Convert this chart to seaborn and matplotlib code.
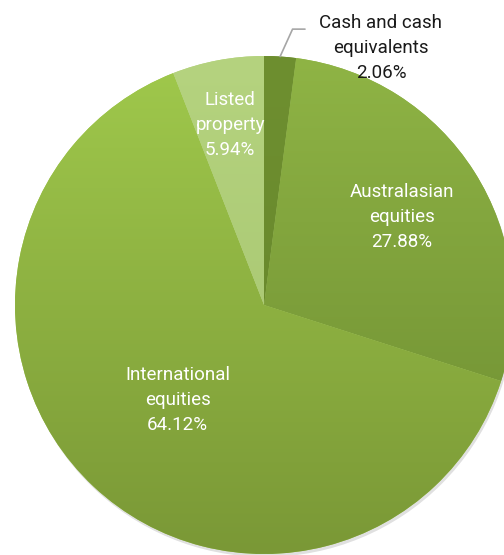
import numpy as np
import matplotlib
matplotlib.use("Agg")
import matplotlib.pyplot as plt
import seaborn as sns
from matplotlib.colors import LinearSegmentedColormap
from matplotlib.patches import Circle

sns.set_theme(style="white")
plt.rcParams['font.family'] = ['Roboto', 'DejaVu Sans']

categories = ["Cash and cash\nequivalents", "Australasian\nequities", "International\nequities", "Listed\nproperty"]
values = [2.06, 27.88, 64.12, 5.94]
top_colors = ["#6e8f30", "#8fb445", "#a0c94c", "#b5d37f"]
bottom_colors = ["#66852b", "#6b8a30", "#7a9836", "#a3c26c"]
label_dist = [None, 0.657, 0.515, 0.735]
label_rot = [0, 0.0, 0.8, 0]

W, H, dpi = 504, 555, 100
fig = plt.figure(figsize=(W / dpi, H / dpi), dpi=dpi)
ax = fig.add_axes([0, 0, 1, 1])

R_PX = 249.0
cx, cy = 264.0, 305.0
ax.set_aspect("equal")
ax.axis("off")

# faint shadow
ax.add_patch(Circle((0.006, -0.012), 1.0, color="#000000", alpha=0.12, zorder=0, lw=0))

wedges, _ = ax.pie(values, startangle=90, counterclock=False, radius=1.0,
                   wedgeprops=dict(linewidth=0, edgecolor="none"))

grad = np.linspace(0, 1, 256).reshape(-1, 1)
for w, tc, bc in zip(wedges, top_colors, bottom_colors):
    w.set_facecolor(tc)
    cmap = LinearSegmentedColormap.from_list("g", [tc, bc])
    im = ax.imshow(grad, cmap=cmap, extent=[-1, 1, -1, 1], origin="upper",
                   aspect="auto", zorder=w.get_zorder() + 0.1)
    im.set_clip_path(w)

ax.set_xlim(-cx / R_PX, (W - cx) / R_PX)
ax.set_ylim(-(H - cy) / R_PX, cy / R_PX)

FS = 13.5
for w, cat, v, d, rot in zip(wedges, categories, values, label_dist, label_rot):
    mid = np.deg2rad((w.theta1 + w.theta2) / 2 + rot)
    txt = f"{cat}\n{v:.2f}%"
    if d is None:
        ex, ey = np.cos(mid) * 1.0, np.sin(mid) * 1.0
        ax.plot([ex, ex + 0.05, ex + 0.10], [ey, ey + 0.11, ey + 0.11],
                color="#a6a6a6", lw=1.2, zorder=5, clip_on=False)
        ax.text(ex + 0.405, ey + 0.035, txt, ha="center", va="center",
                fontsize=FS, color="#1a1a1a", linespacing=1.5, zorder=6)
    else:
        ax.text(np.cos(mid) * d, np.sin(mid) * d, txt, ha="center", va="center",
                fontsize=FS, color="white", linespacing=1.5, zorder=6)

fig.savefig("out.png", dpi=dpi)
